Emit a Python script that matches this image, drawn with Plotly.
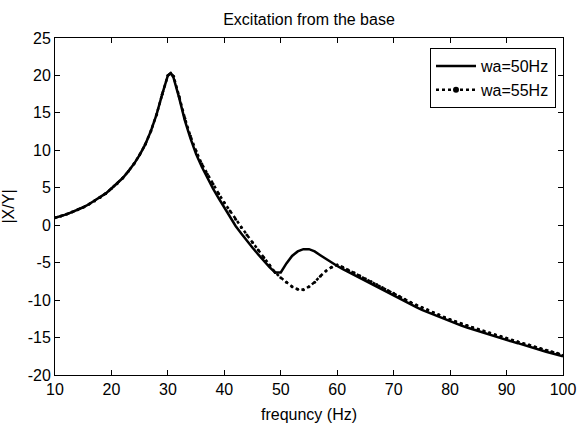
import plotly.graph_objects as go

freq = [10, 11, 12, 13, 14, 15, 16, 17, 18, 19, 20, 21, 22, 23, 24, 25, 26, 27, 28, 29, 30, 30.5,
        31, 32, 33, 34, 35, 36, 37, 38, 39, 40, 41, 42, 43, 44, 45, 46, 47, 48, 49, 50,
        51, 52, 53, 54, 55, 56, 57, 58, 59, 60, 61, 62, 63, 64, 65, 66, 67, 68, 69, 70,
        71, 72, 73, 74, 75, 76, 77, 78, 79, 80, 81, 82, 83, 84, 85, 86, 87, 88, 89, 90,
        91, 92, 93, 94, 95, 96, 97, 98, 99, 100]

wa50 = [1.0, 1.2, 1.45, 1.75, 2.05, 2.4, 2.8, 3.25, 3.7, 4.25, 4.9, 5.55, 6.3, 7.2, 8.2, 9.4, 10.8, 12.6, 14.8, 17.5, 20.0, 20.3,
        19.7, 17.0, 14.0, 11.6, 9.5, 7.8, 6.3, 4.9, 3.6, 2.4, 1.1, -0.1, -1.1, -2.1, -3.0, -3.9, -4.8, -5.6, -6.3, -6.3,
        -5.1, -4.1, -3.5, -3.2, -3.2, -3.5, -4.0, -4.5, -5.0, -5.45, -5.85, -6.25, -6.65, -7.05, -7.4, -7.8, -8.2, -8.6, -9.0, -9.4,
        -9.8, -10.2, -10.6, -10.95, -11.3, -11.6, -11.95, -12.25, -12.6, -12.9, -13.15, -13.4, -13.65, -13.9, -14.15, -14.4, -14.65, -14.85, -15.1, -15.3,
        -15.55, -15.75, -16.0, -16.2, -16.45, -16.65, -16.9, -17.1, -17.3, -17.5]

wa55 = [1.0, 1.2, 1.45, 1.75, 2.05, 2.4, 2.8, 3.25, 3.7, 4.25, 4.9, 5.55, 6.3, 7.2, 8.2, 9.4, 10.8, 12.6, 14.8, 17.5, 20.0, 20.3,
        19.9, 17.2, 14.3, 11.9, 9.9, 8.2, 6.8, 5.5, 4.2, 3.0, 1.9, 0.8, -0.3, -1.3, -2.3, -3.3, -4.3, -5.3, -6.3, -7.0,
        -7.6, -8.2, -8.55, -8.6, -8.2, -7.6, -6.8, -6.1, -5.6, -5.3, -5.6, -6.0, -6.35, -6.75, -7.15, -7.5, -7.9, -8.3, -8.7, -9.1,
        -9.5, -9.9, -10.3, -10.65, -11.0, -11.3, -11.65, -11.95, -12.3, -12.6, -12.9, -13.15, -13.4, -13.65, -13.9, -14.15, -14.4, -14.65, -14.85, -15.1,
        -15.35, -15.55, -15.8, -16.0, -16.25, -16.45, -16.7, -16.9, -17.1, -17.35]

xticks = [10, 20, 30, 40, 50, 60, 70, 80, 90, 100]
yticks = [-20, -15, -10, -5, 0, 5, 10, 15, 20, 25]
names = ["wa=50Hz", "wa=55Hz"]

FONT = "Liberation Sans, Arial, sans-serif"
FS = 16

fig = go.Figure()
fig.add_trace(go.Scatter(x=freq, y=wa50, mode="lines", name=names[0],
                         line=dict(color="black", width=2.5)))
fig.add_trace(go.Scatter(x=freq, y=wa55, mode="lines+markers", name=names[1], showlegend=False,
                         line=dict(color="black", width=2.5, dash="dot"),
                         marker=dict(color="black", size=3)))
# legend entry for the dotted series (line with a dot marker, as in the original)
fig.add_trace(go.Scatter(x=[None], y=[None], mode="lines+markers", name=names[1],
                         line=dict(color="black", width=2.5, dash="dot"),
                         marker=dict(color="black", size=6)))

axis_common = dict(showline=True, linecolor="black", linewidth=1, mirror="ticks",
                   ticks="inside", ticklen=5, tickcolor="black", showgrid=False,
                   zeroline=False, automargin=False, ticklabeloverflow="allow",
                   tickfont=dict(family=FONT, size=FS, color="black"))

fig.update_layout(
    width=577, height=427,
    margin=dict(l=55, r=14, t=38, b=52),
    paper_bgcolor="white", plot_bgcolor="white",
    font=dict(family=FONT, size=FS, color="black"),
    title=dict(text="Excitation from the base", x=(55 + 563) / 2 / 577, xref="container", xanchor="center",
               y=1 - 19 / 427, yref="container", yanchor="middle",
               font=dict(family=FONT, size=FS, color="black")),
    xaxis=dict(range=[10, 100], tickvals=xticks, ticktext=[str(v) for v in xticks],
               title=dict(text="frequncy (Hz)", standoff=11, font=dict(family=FONT, size=FS)),
               **axis_common),
    yaxis=dict(range=[-20, 25], tickvals=yticks, ticktext=[str(v) for v in yticks],
               title=dict(text="|X/Y|", standoff=20, font=dict(family=FONT, size=FS)),
               **axis_common),
    legend=dict(x=(556 - 55) / 508, y=(375 - 48) / 337, xanchor="right", yanchor="top",
                bordercolor="black", borderwidth=1, bgcolor="white",
                font=dict(family=FONT, size=FS, color="black"),
                tracegroupgap=0, itemwidth=40),
    showlegend=True,
)

fig.write_html("out.html", config={"displayModeBar": False},
               post_script="document.body.style.margin='0';")
